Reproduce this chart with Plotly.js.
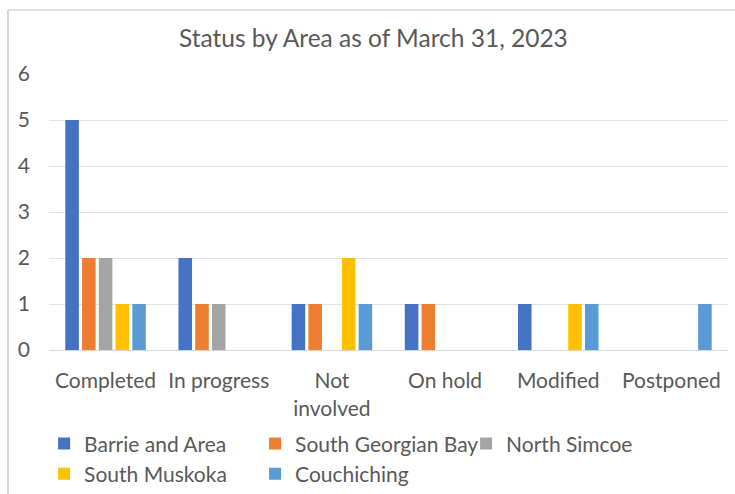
<!DOCTYPE html>
<html>
<head>
<meta charset="utf-8">
<script src="https://cdn.plot.ly/plotly-3.0.1.min.js"></script>
<style>
html,body{margin:0;padding:0;background:#fff;}
#chart{width:735px;height:494px;}
</style>
</head>
<body>
<div id="chart"></div>
<script>
var categories = ["Completed", "In progress", "Not<br>involved", "On hold", "Modified", "Postponed"];
var seriesNames = ["Barrie and Area", "South Georgian Bay", "North Simcoe", "South Muskoka", "Couchiching"];
var barrie = [5, 2, 1, 1, 1, 0];
var southGeorgianBay = [2, 1, 1, 1, 0, 0];
var northSimcoe = [2, 1, 0, 0, 0, 0];
var southMuskoka = [1, 0, 2, 0, 1, 0];
var couchiching = [1, 0, 1, 0, 1, 1];
var yTicks = [0, 1, 2, 3, 4, 5, 6];

var colors = ["#4472C4", "#ED7D31", "#A5A5A5", "#FFC000", "#5B9BD5"];
var allValues = [barrie, southGeorgianBay, northSimcoe, southMuskoka, couchiching];

var traces = allValues.map(function (vals, i) {
  return {
    type: "bar",
    name: seriesNames[i],
    x: categories,
    y: vals,
    marker: { color: colors[i] },
    hoverinfo: "x+y+name"
  };
});

var font = "Lato, 'Open Sans', sans-serif";
var layout = {
  width: 735,
  height: 494,
  margin: { l: 49, r: 7, t: 74, b: 144, autoexpand: false },
  paper_bgcolor: "#ffffff",
  plot_bgcolor: "#ffffff",
  font: { family: font, color: "#595959", size: 21 },
  title: {
    text: "Status by Area as of March 31, 2023",
    font: { family: font, size: 24.5, color: "#595959" },
    x: 0.508, xanchor: "center",
    y: 0.923, yanchor: "middle"
  },
  barmode: "group",
  bargap: 0.26,
  bargroupgap: 0.19,
  xaxis: {
    type: "category",
    showgrid: false,
    showline: true,
    linecolor: "#d9d9d9",
    linewidth: 1,
    ticks: "",
    ticklabelstandoff: 12,
    tickfont: { family: font, size: 21, color: "#595959" },
    zeroline: false
  },
  yaxis: {
    range: [0, 6],
    tickvals: yTicks,
    ticktext: yTicks.map(String),
    showgrid: true,
    gridcolor: "#e3e3e3",
    gridwidth: 1,
    zeroline: false,
    showline: false,
    ticks: "",
    ticklabelstandoff: 18,
    tickfont: { family: font, size: 21, color: "#595959" }
  },
  legend: {
    orientation: "h",
    xref: "container", yref: "container",
    x: 0.06, xanchor: "left",
    y: 0.143, yanchor: "top",
    entrywidth: 166,
    entrywidthmode: "pixels",
    font: { family: font, size: 21, color: "#595959" },
    traceorder: "normal",
    tracegroupgap: 0
  },
  shapes: [
    { type: "line", xref: "paper", yref: "paper", layer: "above",
      x0: -0.0604, x1: -0.0604, y0: 1.232, y1: -0.6, line: { color: "#d6d6d6", width: 2 } },
    { type: "line", xref: "paper", yref: "paper", layer: "above",
      x0: -0.0604, x1: 1.02, y0: 1.232, y1: 1.232, line: { color: "#e0e0e0", width: 2 } }
  ],
  showlegend: true
};

Plotly.newPlot("chart", traces, layout, { staticPlot: true, displayModeBar: false });
</script>
</body>
</html>
